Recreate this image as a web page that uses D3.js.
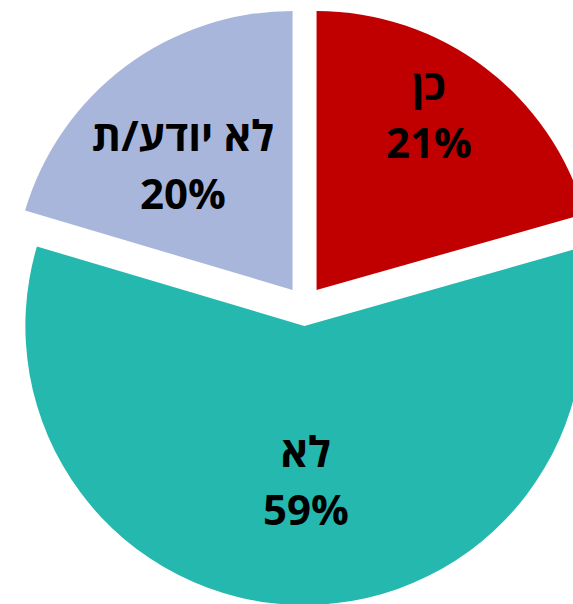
<!DOCTYPE html>
<html>
<head>
<meta charset="utf-8">
<script src="https://cdn.jsdelivr.net/npm/d3@7"></script>
<style>
html,body{margin:0;padding:0;background:#ffffff;}
svg{display:block;}
</style>
</head>
<body>
<svg id="chart" width="573" height="604"></svg>
<script>
// ---- data ----
const categories = ["כן", "לא", "לא יודע/ת"];
const values = [20.6, 59.0, 20.4];
const colors = ["#C00000", "#25B8AE", "#A8B6DB"];

// ---- layout (label placement relative to each exploded slice centre) ----
const labelAngleDeg = [35, 179.5, 315];
const labelDist = [196, 170, 155];

const W = 573, H = 604;
const cx = 304.5, cy = 306, R = 279, explode = 20, lineGap = 58;

const svg = d3.select("#chart");

const pie = d3.pie().sort(null).value(d => d.value).startAngle(0).endAngle(2 * Math.PI);
const arc = d3.arc().innerRadius(0).outerRadius(R);

const data = categories.map((c, i) => ({ name: c, value: values[i], color: colors[i], idx: i }));
const arcs = pie(data);

const g = svg.append("g").attr("transform", `translate(${cx},${cy})`);

const slices = g.selectAll("g.slice").data(arcs).enter().append("g")
  .attr("class", "slice")
  .attr("transform", d => {
    const mid = (d.startAngle + d.endAngle) / 2;
    return `translate(${explode * Math.sin(mid)},${-explode * Math.cos(mid)})`;
  });

slices.append("path")
  .attr("d", arc)
  .attr("fill", d => d.data.color);

const fmt = d3.format(".0f");
slices.each(function(d) {
  const i = d.data.idx;
  const a = labelAngleDeg[i] * Math.PI / 180;
  const x = labelDist[i] * Math.sin(a);
  const y = -labelDist[i] * Math.cos(a);
  const t = d3.select(this).append("g").attr("transform", `translate(${x},${y})`);
  t.append("text")
    .attr("x", 0).attr("y", -lineGap / 2)
    .attr("text-anchor", "middle")
    .attr("font-family", "'Open Sans', 'DejaVu Sans', sans-serif")
    .attr("font-weight", "bold")
    .attr("font-size", 42)
    .attr("fill", "#000")
    .text(d.data.name);
  t.append("text")
    .attr("x", 0).attr("y", lineGap / 2)
    .attr("text-anchor", "middle")
    .attr("font-family", "'Open Sans', 'DejaVu Sans', sans-serif")
    .attr("font-weight", "bold")
    .attr("font-size", 42)
    .attr("fill", "#000")
    .text(fmt(d.data.value) + "%");
});
</script>
</body>
</html>
